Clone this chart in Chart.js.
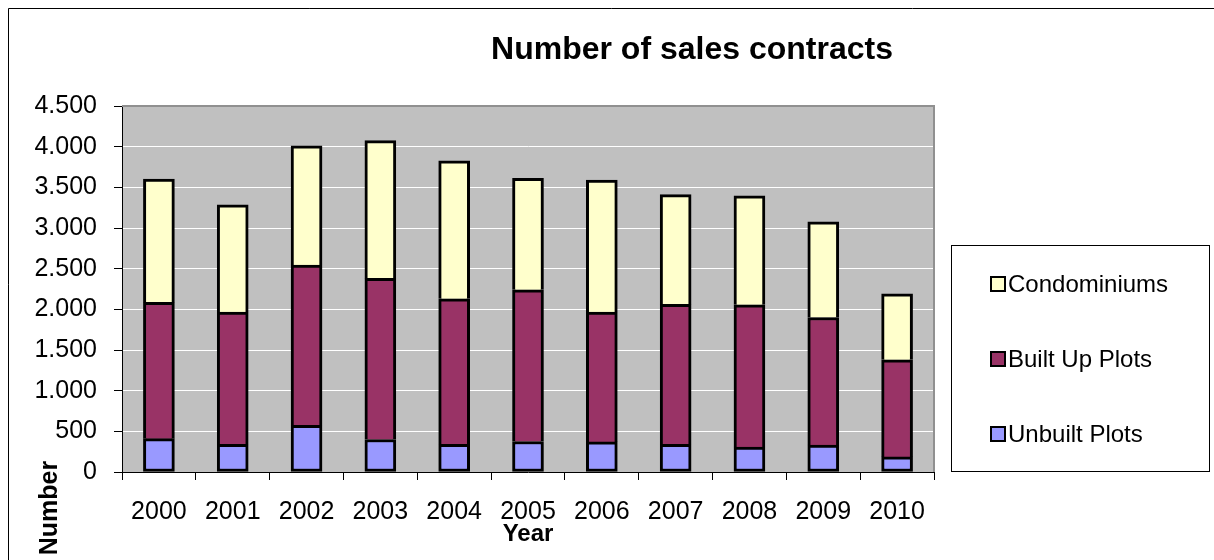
<!DOCTYPE html>
<html>
<head>
<meta charset="utf-8">
<script src="https://cdn.jsdelivr.net/npm/chart.js@4.4.1/dist/chart.umd.min.js"></script>
<style>
  html, body { margin: 0; padding: 0; background: #fff; }
  canvas { display: block; }
</style>
</head>
<body>
<canvas id="chart" width="1214" height="560"></canvas>
<script>
const years = ["2000", "2001", "2002", "2003", "2004", "2005", "2006", "2007", "2008", "2009", "2010"];
const unbuiltPlots = [410, 340, 575, 400, 340, 375, 370, 340, 305, 330, 185];
const builtUpPlots = [1675, 1625, 1970, 1980, 1790, 1865, 1595, 1720, 1750, 1570, 1195];
const condominiums = [1515, 1320, 1465, 1695, 1695, 1370, 1625, 1350, 1340, 1175, 810];
const yTickLabels = ["0", "500", "1.000", "1.500", "2.000", "2.500", "3.000", "3.500", "4.000", "4.500"];

const FONT = "Arial, 'Liberation Sans', sans-serif";

// plot background, frame, plot border, title, rotated y title, boxed legend
const excelLook = {
  id: "excelLook",
  beforeDraw(chart) {
    const { ctx, chartArea: a } = chart;
    ctx.save();
    ctx.fillStyle = "#fff";
    ctx.fillRect(0, 0, chart.width, chart.height);
    ctx.strokeStyle = "#000";
    ctx.lineWidth = 1;
    ctx.beginPath();
    ctx.moveTo(8.5, chart.height);
    ctx.lineTo(8.5, 8.5);
    ctx.lineTo(chart.width, 8.5);
    ctx.stroke();
    ctx.fillStyle = "#C0C0C0";
    ctx.fillRect(a.left, a.top, a.right - a.left, a.bottom - a.top);
    ctx.restore();
  },
  beforeDatasetsDraw(chart) {
    const { ctx, chartArea: a } = chart;
    ctx.save();
    ctx.strokeStyle = "#909090";
    ctx.lineWidth = 2;
    ctx.beginPath();
    ctx.moveTo(a.left, a.top);
    ctx.lineTo(a.right, a.top);
    ctx.lineTo(a.right, a.bottom);
    ctx.stroke();
    ctx.restore();
  },
  afterDraw(chart) {
    const { ctx } = chart;
    ctx.save();
    ctx.fillStyle = "#000";
    ctx.textBaseline = "middle";
    ctx.textAlign = "center";
    ctx.font = "bold 32px " + FONT;
    ctx.fillText("Number of sales contracts", 692, 50);

    ctx.translate(50, 508);
    ctx.rotate(-Math.PI / 2);
    ctx.font = "bold 25px " + FONT;
    ctx.fillText("Number", 0, 0);
    ctx.restore();

    // legend
    ctx.save();
    ctx.strokeStyle = "#000";
    ctx.lineWidth = 1;
    ctx.strokeRect(951.5, 245.5, 258, 226);
    ctx.font = "24px " + FONT;
    ctx.textAlign = "left";
    ctx.textBaseline = "middle";
    const sets = chart.data.datasets.slice().reverse();
    sets.forEach((ds, i) => {
      const cy = 284 + i * 75;
      ctx.fillStyle = ds.backgroundColor;
      ctx.fillRect(991, cy - 7, 14, 14);
      ctx.lineWidth = 2;
      ctx.strokeStyle = "#000";
      ctx.strokeRect(991, cy - 7, 14, 14);
      ctx.fillStyle = "#000";
      ctx.fillText(ds.label, 1008, cy + 1);
    });
    ctx.restore();
  },
};

const barStyle = {
  borderColor: "#000",
  borderWidth: 3,
  barThickness: 31,
};

new Chart(document.getElementById("chart"), {
  type: "bar",
  data: {
    labels: years,
    datasets: [
      { label: "Unbuilt Plots", data: unbuiltPlots, backgroundColor: "#9999FF", borderSkipped: false, ...barStyle },
      { label: "Built Up Plots", data: builtUpPlots, backgroundColor: "#993366", ...barStyle },
      { label: "Condominiums", data: condominiums, backgroundColor: "#FFFFCC", ...barStyle },
    ],
  },
  options: {
    responsive: false,
    animation: false,
    layout: { padding: { top: 106, right: 280, bottom: 0, left: 0 } },
    plugins: {
      legend: { display: false },
      title: { display: false },
      tooltip: { enabled: false },
    },
    scales: {
      x: {
        stacked: true,
        afterFit(scale) { scale.height = 88; },
        grid: { drawOnChartArea: false, tickLength: 8, tickColor: "#000", color: "#000" },
        border: { display: true, color: "#000", width: 1 },
        ticks: { color: "#000", padding: 17, maxRotation: 0, font: { family: FONT, size: 25 } },
        title: {
          display: true,
          text: "Year",
          color: "#000",
          padding: { top: 0, bottom: 11 },
          font: { family: FONT, size: 24, weight: "bold" },
        },
      },
      y: {
        stacked: true,
        min: 0,
        max: 4500,
        afterFit(scale) { scale.width = 122; },
        grid: {
          tickLength: 8,
          tickColor: "#000",
          color: (c) => (c.tick && c.tick.value === 0 ? "rgba(0,0,0,0)" : "#ffffff"),
        },
        border: { display: true, color: "#000", width: 1 },
        ticks: {
          stepSize: 500,
          padding: 17,
          color: "#000",
          font: { family: FONT, size: 25 },
          callback: (value, index) => yTickLabels[index],
        },
      },
    },
  },
  plugins: [excelLook],
});
</script>
</body>
</html>
